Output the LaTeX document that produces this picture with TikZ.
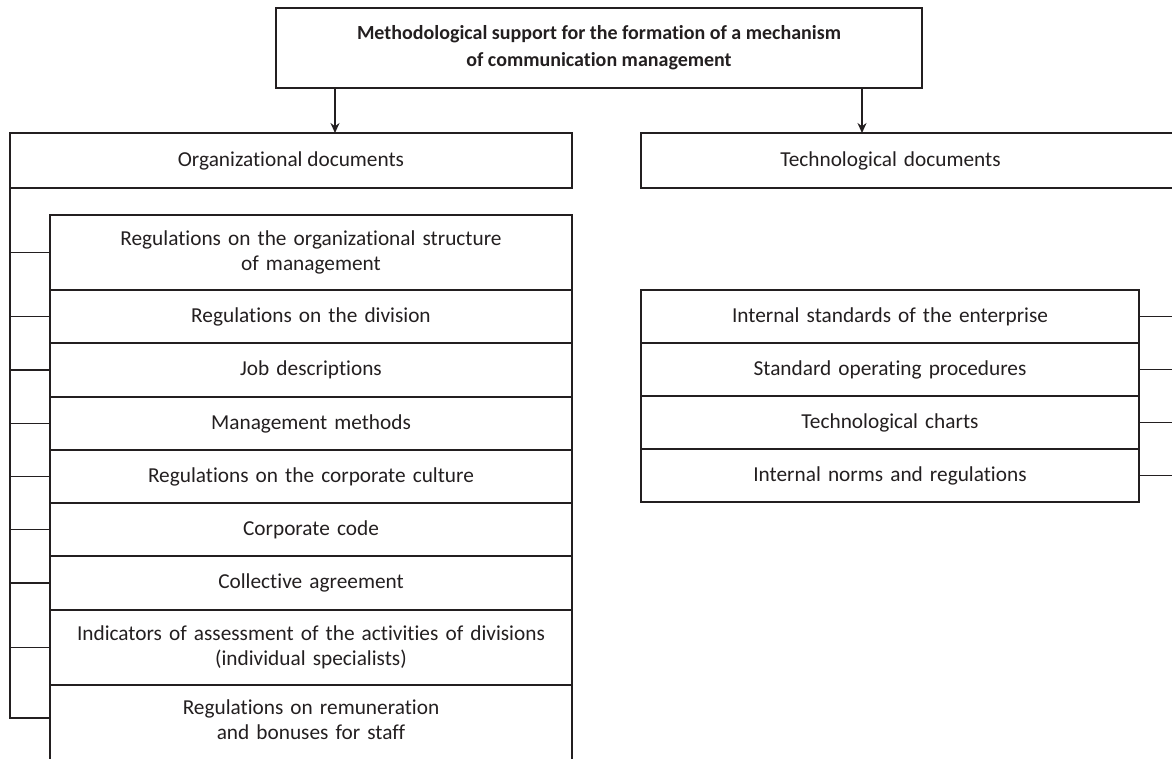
\documentclass[tikz,border=0pt]{standalone}
\usepackage{fontspec}
\setmainfont{Carlito}[Ligatures=NoCommon]
\usetikzlibrary{arrows.meta, positioning}
\definecolor{ink}{HTML}{231F20}

\begin{document}
\begin{tikzpicture}[x=1pt, y=-1pt,
    box/.style={draw=ink, line width=2.2pt, outer sep=0pt, inner sep=2pt, align=center, text=ink, font=\fontsize{21.3}{25}\selectfont},
    orgitem/.style={box, minimum width=522pt, text width=510pt},
    techitem/.style={box, minimum width=498pt, minimum height=53pt, text width=480pt},
    tick/.style={ink, line width=1.5pt},
    link/.style={ink, line width=1.5pt, -{Stealth[length=10pt, width=9pt]}}]
        \clip (0,0) rectangle (1172,758);

        % Head
        \node[box, minimum width=646pt, minimum height=80pt, font=\bfseries\fontsize{20}{27}\selectfont] (head) at (599,48)
            {Methodological support for the formation of a mechanism\\of communication management};
        \node[box, minimum width=562pt, minimum height=55pt] (org) at (291,160.5) {Organizational documents};
        \node[box, minimum width=559pt, minimum height=55pt, text width=540pt] (tech) at (920.5,160.5) {\hspace*{-60pt}Technological documents};
        \draw[link] ([xshift=59pt]head.south west) -- ([xshift=59pt]head.south west |- org.north);
        \draw[link] ([xshift=-60pt]head.south east) -- ([xshift=-60pt]head.south east |- tech.north);

        % Organizational list
        \node[orgitem, minimum height=75pt, anchor=north] (r1) at (311,215) {Regulations on the organizational structure\\of management};
        \node[orgitem, minimum height=53pt, below=0pt of r1] (r2) {Regulations on the division};
        \node[orgitem, minimum height=54pt, below=0pt of r2] (r3) {Job descriptions};
        \node[orgitem, minimum height=53pt, below=0pt of r3] (r4) {Management methods};
        \node[orgitem, minimum height=53pt, below=0pt of r4] (r5) {Regulations on the corporate culture};
        \node[orgitem, minimum height=53pt, below=0pt of r5] (r6) {Corporate code};
        \node[orgitem, minimum height=54pt, below=0pt of r6] (r7) {Collective agreement};
        \node[orgitem, minimum height=75pt, below=0pt of r7] (r8) {Indicators of assessment of the activities of divisions\\(individual specialists)};
        \node[orgitem, minimum height=90pt, below=0pt of r8, text depth=45pt] (r9) {Regulations on remuneration\\and bonuses for staff};

        % Left bracket
        \coordinate (k9) at ([yshift=12pt]r9.west);
        \draw[tick] (org.south west) -- (org.south west |- k9) -- (k9);
        \foreach \i in {1,...,8}
            \draw[tick] (org.south west |- r\i.west) -- (r\i.west);

        % Technological list
        \node[techitem, anchor=north] (t1) at (890,290) {Internal standards of the enterprise};
        \node[techitem, below=0pt of t1] (t2) {Standard operating procedures};
        \node[techitem, below=0pt of t2] (t3) {Technological charts};
        \node[techitem, below=0pt of t3] (t4) {Internal norms and regulations};

        % Right ticks
        \coordinate (rim) at (1185,0);
        \foreach \i in {1,...,4}
            \draw[tick] (t\i.east) -- (t\i.east -| rim);
    \end{tikzpicture}
\end{document}
